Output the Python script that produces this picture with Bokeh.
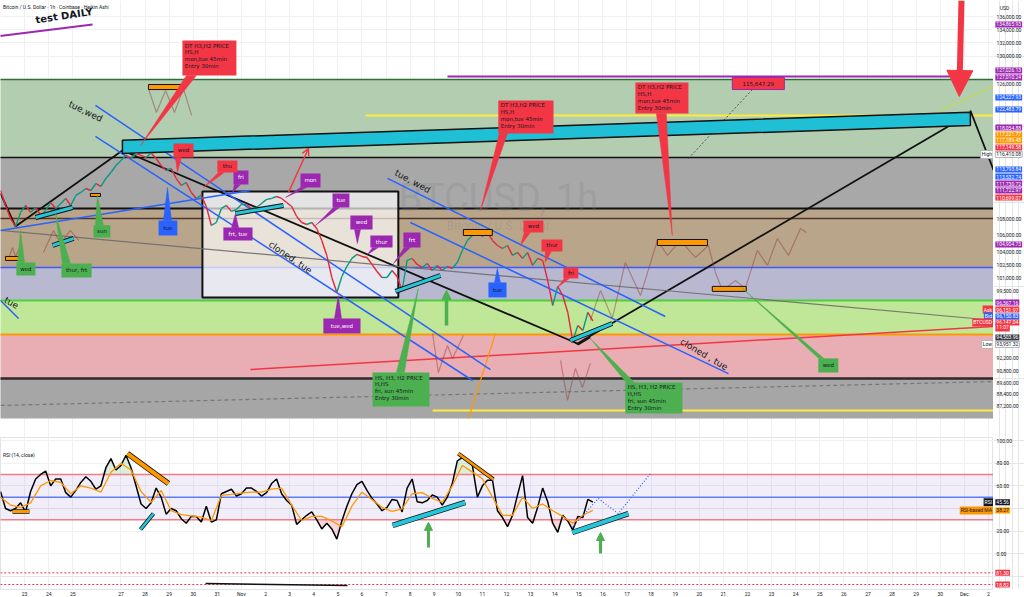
import numpy as np
from bokeh.plotting import figure
from bokeh.layouts import column, row
from bokeh.models import (Range1d, FixedTicker, Label, Arrow, NormalHead, OpenHead, Grid)
from bokeh.core.properties import value
from bokeh.embed import file_html
from bokeh.resources import INLINE

# ---------------------------------------------------------------- data
BAR_HOURS = 5      # sampled Heikin-Ashi closes, every 5 hours from Oct 22 00:00
price_close = [
    111540, 109650, 108030, 107060, 108780, 109650, 108780, 109400, 108410, 109030,
    110030, 109280, 109900, 110530, 109650, 110910, 111290, 111790, 111540, 112430,
    112050, 113080, 113850, 114760, 115420, 116080, 115680, 116340, 116080, 115810,
    116410, 115680, 114760, 114110, 114370, 113080, 112180, 112560, 111290, 110530,
    110910, 109530, 107180, 107540, 109280, 109650, 108910, 109150, 109780, 109780,
    109280, 109400, 109900, 110410, 110530, 110780, 110530, 110030, 109530, 108280,
    107540, 107300, 107540, 106810, 105360, 103580, 101010, 99300, 101130, 102290,
    103230, 103700, 103460, 103340, 102520, 101700, 101010, 101010, 101820, 101130,
    99530, 102990, 103230, 102520, 102170, 102640, 101820, 102410, 101820, 102290,
    102050, 102760, 104170, 105360, 105960, 106330, 105840, 106330, 105360, 104760,
    104400, 104760, 103580, 103930, 103230, 103930, 102410, 103230, 102990, 100670,
    97840, 99990, 98960, 97060, 93950, 95640, 95090, 97060, 96147.04]

rsi_values = [
    55, 40, 38, 40, 45, 37, 55, 66, 70, 73, 60, 66, 66, 54, 50, 56, 63, 68, 64, 57,
    60, 76, 84, 74, 78, 87, 76, 60, 44, 40, 45, 58, 50, 35, 40, 38, 31, 27, 33, 33,
    28, 42, 28, 30, 53, 55, 57, 51, 53, 58, 58, 55, 51, 54, 62, 66, 53, 47, 43, 26,
    30, 34, 37, 30, 22, 27, 22, 13, 29, 42, 53, 61, 64, 56, 49, 44, 38, 41, 48, 47,
    37, 58, 66, 46, 45, 47, 52, 50, 43, 50, 62, 82, 85, 82, 78, 50, 60, 65, 65, 38,
    32, 24, 34, 52, 69, 32, 27, 41, 58, 46, 27, 19, 34, 29, 21, 33, 32, 48, 45.56]

MA_HOURS = 10
rsi_ma_values = [
    50, 43, 41, 45, 60, 64.7, 63, 53, 60, 58, 54.4, 72, 80, 74, 55, 45.5, 55.9, 38.2,
    34.5, 33.5, 32.3, 29.4, 51.5, 52.5, 53.5, 54.4, 54.4, 57, 58, 43, 29.4, 33, 33, 29,
    24, 42, 54.4, 48, 41, 37.5, 39.7, 53, 54, 49, 45.5, 60, 77.9, 72.1, 66.2, 50, 34,
    34, 50, 40, 44, 38, 33, 27, 34, 38.27]

day_ticks = [1, 2, 3] + list(range(5, 42))
day_labels = (["23", "24", "25"] + [str(n) for n in range(27, 32)] + ["Nov"]
              + [str(n) for n in range(2, 31)] + ["Dec", "2"])

price_ticks = [87200, 88400, 89600, 90800, 92200, 99500, 101000, 102500, 104000,
               106000, 108000, 126000, 130000, 132000, 134000, 136000]
rsi_ticks = [0, 20, 60, 80, 100]
rsi_levels = [(70, "#f27c86"), (50, "#5b7cff"), (30, "#f27c86")]
rsi_extra_levels = [-16.8, -27.1]

# horizontal zones (price top, price bottom, colour)
zone_top = [126580, 115810, 109280, 102170, 98400, 94660, 90020]
zone_bottom = [115810, 109280, 102170, 98400, 94660, 90020, 86020]
zone_color = ["#b3cdb0", "#a8a8a8", "#b9a68a", "#b9b8d1", "#c0e697", "#e8aeb3", "#a6a6a6"]

level_lines = [(126580, "#2e7031", 1.5), (115810, "#111111", 1.5), (109280, "#111111", 2.0),
               (108030, "#4e342e", 1.5), (102170, "#3d5afe", 1.5), (98400, "#4cd137", 2.0),
               (94660, "#ff9800", 2.0), (90020, "#2b2b2b", 2.5)]
partial_levels = [(18.55, 39.83, 127010, "#9c27b0", 2.0),
                  (15.15, 41.5, 121500, "#ffeb3b", 2.0),
                  (17.93, 41.5, 86810, "#ffeb3b", 2.0)]

# trend lines: (days, prices, colour, width, dash, alpha)
trend_lines = [
    ([0.0, 0.62], [111160, 107060], "#111111", 1.8, "solid", 1),
    ([0.62, 5.06], [107060, 116740], "#111111", 1.8, "solid", 1),
    ([5.06, 23.94], [116740, 93690], "#111111", 1.8, "solid", 1),
    ([23.65, 23.98, 24.48], [94120, 93580, 94340], "#111111", 1.5, "solid", 1),
    ([23.94, 40.25], [93690, 121770], "#111111", 1.8, "solid", 1),
    ([40.25, 41.3], [122190, 113460], "#111111", 1.8, "solid", 1),
    ([0.0, 41.3], [106570, 96180], "#6d6d6d", 1.2, "solid", 0.9),
    ([0.0, 41.3], [87300, 89720], "#777777", 1.2, "4 3", 1),
    ([10.37, 41.3], [90950, 95530], "#f23645", 1.5, "solid", 1),
    ([19.42, 20.54], [86015, 94770], "#ff9800", 1.2, "solid", 1),
    ([39.0, 41.3], [122190, 125720], "#cddc39", 1.0, "solid", 1),
    ([31.2, 28.55], [125140, 115680], "#333333", 0.8, "2 2", 1),
    ([3.94, 20.33], [122890, 90950], "#2962ff", 1.5, "solid", 1),
    ([3.94, 19.59], [118620, 89820], "#2962ff", 1.5, "solid", 1),
    ([0.0, 10.37], [106570, 111540], "#2962ff", 1.5, "solid", 1),
    ([16.06, 27.59], [113080, 96620], "#2962ff", 1.5, "solid", 1),
    ([17.01, 30.21], [107540, 90530], "#2962ff", 1.5, "solid", 1),
    ([0.0, 0.75], [98400, 96400], "#2962ff", 1.5, "solid", 1),
    ([-0.5, 3.82], [132800, 134770], "#9c27b0", 2.0, "solid", 1),
]

ghost_paths = [
    ([6.14, 6.47, 6.85, 7.22, 7.59, 7.93], [125290, 121910, 125000, 121910, 125290, 121500]),
    ([17.93, 18.17, 18.55, 18.76, 19.21], [94770, 90640, 93470, 92110, 94550]),
    ([23.24, 23.53, 23.86, 24.15, 24.48], [91900, 87800, 91060, 89110, 91590]),
    ([24.48, 24.90, 25.39, 25.93, 26.56, 27.26, 27.68, 28.22, 28.84, 29.38, 29.67, 29.96,
      30.50, 30.91, 31.41, 31.83, 32.24, 32.70, 33.20, 33.44],
     [96180, 99530, 96400, 102760, 98960, 105360, 103580, 105360, 103340, 104760, 101590,
      99530, 100670, 99760, 104170, 102410, 105600, 103580, 106810, 106330]),
    ([1.78, 2.20, 2.49, 2.90, 3.24], [103930, 106570, 105000, 106570, 105360]),
    ([0.33, 0.50, 0.62, 0.79, 0.95], [103230, 104520, 103460, 104400, 103230]),
]

white_box = (8.38, 16.51, 111410, 98740)
cyan_band_x = [5.06, 40.25, 40.25, 5.06]
cyan_band_y = [118110, 121950, 120110, 116340]

orange_bars = [(6.14, 7.59, 125860, 125140), (19.21, 20.41, 106690, 105960),
               (27.26, 29.34, 105480, 104760), (29.54, 30.95, 99990, 99420),
               (0.21, 0.91, 103460, 102990), (3.73, 4.15, 111160, 110780)]
cyan_bars = [(16.39, 99420, 18.26, 101240), (23.65, 94010, 25.39, 95850),
             (1.45, 108160, 2.99, 109400), (2.16, 104760, 3.03, 105600),
             (9.75, 108650, 11.74, 109650)]

RED, GREEN, BLUE, PURPLE = "#f23645", "#4caf50", "#2962ff", "#9c27b0"
DT_TEXT = "DT H3,H2 PRICE\n HS,H\nmon,tue  45min\nEntry 30min"
HS_TEXT = "HS, H3, H2 PRICE\nH,HS\nfri, sun 45min\nEntry 30min"
# (box: d0, d1, top, bottom), (base d0, d1, price), (tip d, price), colour, text, text colour, multiline
callouts = [
    ((7.55, 9.79, 132330, 127160), (7.72, 8.13, 127160), (5.81, 117410), RED, DT_TEXT, "#131722", True),
    ((20.66, 22.95, 123590, 119030), (20.70, 21.04, 119030), (19.92, 109030), RED, DT_TEXT, "#131722", True),
    ((26.35, 28.55, 126150, 121770), (27.22, 27.63, 121770), (27.88, 105960), RED, DT_TEXT, "#131722", True),
    ((15.44, 17.80, 90640, 87200), (16.43, 16.76, 90640), (17.34, 99760), GREEN, HS_TEXT, "#131722", True),
    ((25.93, 28.30, 89620, 86510), (25.97, 26.31, 89620), (24.48, 94230), GREEN, HS_TEXT, "#131722", True),
    ((33.94, 34.77, 92110, 90640), (33.96, 34.17, 92110), (30.79, 99760), GREEN, "wed", "#131722", False),
    ((3.86, 4.56, 107220, 105720), (3.94, 4.27, 107220), (4.02, 110910), GREEN, "sun", "#131722", False),
    ((0.66, 1.45, 102760, 101240), (0.71, 1.00, 102760), (0.83, 106570), GREEN, "wed", "#131722", False),
    ((2.53, 3.78, 102640, 101010), (2.57, 2.90, 102640), (2.28, 108650), GREEN, "thur, frt", "#131722", False),
    ((6.56, 7.34, 107790, 105960), (6.76, 7.10, 107790), (6.93, 111920), BLUE, "tue", "#131722", False),
    ((20.25, 21.00, 100440, 98740), (20.50, 20.75, 100440), (20.62, 102050), BLUE, "tue", "#131722", False),
    ((9.67, 10.29, 114110, 112310), (9.71, 9.96, 112310), (9.63, 111290), PURPLE, "fri", "#ffffff", False),
    ((12.45, 13.28, 113720, 111920), (12.45, 12.70, 111920), (11.83, 110650), PURPLE, "mon", "#ffffff", False),
    ((13.78, 14.48, 111160, 109400), (13.82, 14.07, 109400), (13.07, 107180), PURPLE, "tue", "#ffffff", False),
    ((14.52, 15.44, 108410, 106690), (14.69, 14.94, 106690), (14.81, 105000), PURPLE, "wed", "#ffffff", False),
    ((15.35, 16.27, 105960, 104520), (15.44, 15.68, 104520), (15.23, 103700), PURPLE, "thur", "#ffffff", False),
    ((16.72, 17.43, 106330, 104520), (16.76, 17.01, 104520), (16.31, 102640), PURPLE, "frt", "#ffffff", False),
    ((9.25, 10.46, 106930, 105360), (9.59, 9.88, 106930), (9.75, 108650), PURPLE, "frt, tue", "#ffffff", False),
    ((13.40, 14.94, 96400, 94770), (13.86, 14.15, 96400), (14.02, 98960), PURPLE, "tue,wed", "#ffffff", False),
    ((7.18, 8.01, 117680, 115810), (7.26, 7.51, 115810), (7.34, 113850), RED, "wed", "#131722", False),
    ((9.00, 9.83, 115420, 113850), (9.05, 9.29, 113850), (8.42, 111920), RED, "thu", "#131722", False),
    ((21.70, 22.53, 107790, 106330), (21.74, 21.99, 106330), (21.58, 104760), RED, "wed", "#131722", False),
    ((22.45, 23.32, 105480, 104050), (22.61, 22.86, 104050), (22.61, 102760), RED, "thur", "#131722", False),
    ((23.36, 23.98, 102170, 100900), (23.40, 23.61, 100900), (23.11, 99870), RED, "fri", "#131722", False),
]

rot_texts = [("tue,wed", 3.53, 122050, -0.45, "center"), ("tue, wed", 17.1, 112690, -0.5, "center"),
             ("cloned, tue", 12.03, 103340, -0.6, "center"), ("cloned , tue", 29.2, 92530, -0.53, "center"),
             ("tue", 0.72, 97720, -0.5, "right")]

price_tags = [
    ("134,865.93", 134770, PURPLE, ""), ("127,026.13", 127890, PURPLE, ""),
    ("127,010.24", 126870, PURPLE, ""), ("124,227.93", 124010, BLUE, ""),
    ("122,483.79", 122330, BLUE, ""), ("118,054.88", 119840, PURPLE, ""),
    ("117,221.77", 118890, "#ff9800", ""), ("117,189.48", 118080, "#ff9800", ""),
    ("117,149.58", 117140, RED, ""), ("116,410.08", 116210, "#ffffff", "High"),
    ("113,793.84", 114240, BLUE, ""), ("113,532.74", 113330, BLUE, ""),
    ("111,730.72", 112430, PURPLE, ""), ("111,722.97", 111540, PURPLE, ""),
    ("110,699.07", 110650, RED, ""), ("104,904.73", 104880, PURPLE, ""),
    ("96,567.16", 98170, PURPLE, ""), ("96,151.97", 97390, RED, "Ask"),
    ("96,150.83", 96620, BLUE, "Bid"), ("96,147.04", 95960, RED, "BTCUSD"),
    ("11:07", 95420, RED, ""), ("94,503.96", 94340, "#363a45", ""),
    ("93,951.32", 93590, "#ffffff", "Low"),
]
rsi_tags = [("45.56", 45.56, "#131722", "RSI"), ("38.27", 38.27, "#ff9800", "RSI-based MA"),
            ("81.30", -16.8, RED, ""), ("18.82", -27.1, RED, "")]

rsi_bars = [(5.27, 88.5, 6.97, 62.0, "#ff9800", 4), (0.5, 37.3, 1.2, 37.3, "#ff9800", 3),
            (5.81, 21.4, 6.35, 35.5, "#26c6da", 2.5), (16.27, 25.0, 19.29, 45.3, "#26c6da", 4),
            (23.73, 18.8, 26.06, 35.5, "#26c6da", 4), (19.0, 88.5, 20.46, 65.6, "#ff9800", 2.5)]
rsi_projection_x = [23.73, 24.81, 25.64, 26.97]
rsi_projection_y = [23.2, 48.8, 35.5, 70.8]

# ---------------------------------------------------------------- figures
FONT = "Roboto"
GRID = "#eef0f5"
FULL = [-2, 45]          # span wider than the visible range, for full-width levels
xr = Range1d(0.0, 41.21)
pyr = Range1d(84170, 138505)
ryr = Range1d(-31.5, 102.65)

p = figure(frame_width=993, frame_height=437, x_range=xr, y_range=pyr, y_axis_type="log",
           y_axis_location=None, x_axis_location=None, output_backend="svg",
           toolbar_location=None, min_border=0)
p.outline_line_color = None
p.add_layout(Grid(dimension=0, ticker=FixedTicker(ticks=day_ticks), grid_line_color=GRID))
p.add_layout(Grid(dimension=1, ticker=FixedTicker(ticks=price_ticks), grid_line_color=GRID))

# zones
p.quad(left=FULL[0], right=FULL[1], top=zone_top, bottom=zone_bottom, fill_color=zone_color,
       line_color=None)
for lvl, col, w in level_lines:
    p.line(FULL, [lvl, lvl], line_color=col, line_width=w)
for d0, d1, lvl, col, w in partial_levels:
    p.line([d0, d1], [lvl, lvl], line_color=col, line_width=w)

# white study box
p.quad(left=[white_box[0]], right=[white_box[1]], top=[white_box[2]], bottom=[white_box[3]],
       fill_color="white", fill_alpha=0.68, line_color="#111111", line_width=2)

# watermark
p.text(x=[20.66], y=[110650], text=["BTCUSD, 1h"], text_font=value(FONT), text_font_size="38px",
       text_color="#787b86", text_alpha=0.22, text_align="center", text_baseline="middle")
p.text(x=[20.66], y=[107100], text=["Bitcoin / U.S. Dollar"], text_font=value(FONT),
       text_font_size="12px", text_color="#787b86", text_alpha=0.25, text_align="center",
       text_baseline="middle")

for xs, ys, col, w, dash, a in trend_lines:
    p.line(xs, ys, line_color=col, line_width=w, line_dash=dash, line_alpha=a)

p.patch(cyan_band_x, cyan_band_y, fill_color="#1fbfd6", line_color="#111111", line_width=1.5)

for xs, ys in ghost_paths:
    p.line(xs, ys, line_color="#8b3a3a", line_alpha=0.45, line_width=1.2)

# price path (Heikin Ashi closes) coloured by direction
pc = np.array(price_close, dtype=float)
tx = np.arange(len(pc)) * BAR_HOURS / 24.0
up = pc[1:] >= pc[:-1]
seg_col = np.where(up, "#089981", "#e0283a").tolist()
p.segment(x0=tx[:-1], y0=pc[:-1], x1=tx[1:], y1=pc[1:], line_color=seg_col, line_width=1.4)

for l, r_, t, b in orange_bars:
    p.quad(left=[l], right=[r_], top=[t], bottom=[b], fill_color="#ff9800", line_color="#111111",
           line_width=1)
for x0, y0, x1, y1 in cyan_bars:
    p.line([x0, x1], [y0, y1], line_color="#111111", line_width=5)
    p.line([x0, x1], [y0, y1], line_color="#26c6da", line_width=3)

# arrows
p.add_layout(Arrow(end=OpenHead(size=7, line_color=RED, line_width=1.5), x_start=11.95,
                   y_start=111290, x_end=12.78, y_end=117010, line_color=RED, line_width=1.5))
p.add_layout(Arrow(end=NormalHead(size=26, fill_color=RED, line_color=RED), x_start=39.88,
                   y_start=138505, x_end=39.79, y_end=124150, line_color=RED, line_width=6))
p.add_layout(Arrow(end=NormalHead(size=9, fill_color=GREEN, line_color=GREEN), x_start=18.51,
                   y_start=95640, x_end=18.51, y_end=99530, line_color=GREEN, line_width=3.5))

# callouts
for box, base, tip, col, txt, fg, multi in callouts:
    d0, d1, top, bot = box
    b0, b1, by = base
    p.patch([b0, tip[0], b1], [by, tip[1], by], fill_color=col, line_color=col, line_width=0.5)
    p.quad(left=[d0], right=[d1], top=[top], bottom=[bot], fill_color=col, line_color=None)
    if multi:
        p.text(x=[d0 + 0.1], y=[top], y_offset=2, text=[txt], text_font=value("DejaVu Sans"),
               text_font_size="5.5px", text_color=fg, text_align="left", text_baseline="top",
               text_line_height=1.15)
    else:
        p.text(x=[(d0 + d1) / 2], y=[(top * bot) ** 0.5], text=[txt], text_font=value("DejaVu Sans"),
               text_font_size="5.5px", text_color=fg, text_align="center", text_baseline="middle")

# value label 115,647.29
p.quad(left=[30.37], right=[32.53], top=[126870], bottom=[125140], fill_color=RED,
       line_color=PURPLE, line_width=1)
p.text(x=[31.45], y=[(126870 * 125140) ** 0.5], text=["115,647.29"], text_font=value("DejaVu Sans"),
       text_font_size="5.5px", text_color="#131722", text_align="center", text_baseline="middle")

for txt, x, y, ang, al in rot_texts:
    p.text(x=[x], y=[y], text=[txt], angle=ang, text_font=value("DejaVu Sans"), text_font_size="9px",
           text_color="#131722", text_align=al, text_baseline="middle")

p.text(x=[1.49], y=[134620], text=["test DAILY"], angle=0.15, text_font=value("DejaVu Sans"),
       text_font_size="10px", text_font_style="bold", text_color="#131722", text_align="left",
       text_baseline="bottom")
p.add_layout(Label(x=0.1, y=137560, text="Bitcoin / U.S. Dollar · 1h · Coinbase · Heikin Ashi",
                   text_font=FONT, text_font_size="5px", text_color="#131722", text_baseline="middle"))

# labels that sit just left of the price scale (inside the chart)
for txt, y, bg, side in price_tags:
    if side:
        fg = "#131722" if bg == "#ffffff" else "#ffffff"
        bd = "#b2b5be" if bg == "#ffffff" else None
        p.add_layout(Label(x=41.19, y=y, text=side, text_font=FONT, text_font_size="5px",
                           text_color=fg, background_fill_color=bg, border_line_color=bd,
                           text_align="right", text_baseline="middle", padding=1))

# ---------------------------------------------------------------- price scale column
pa = figure(frame_width=31, frame_height=437, x_range=Range1d(0, 1), y_range=pyr, y_axis_type="log",
            y_axis_location=None, x_axis_location=None, output_backend="svg",
            toolbar_location=None, min_border=0)
pa.outline_line_color = None
pa.text(x=[0.1] * len(price_ticks), y=price_ticks, text=[f"{v:,.2f}" for v in price_ticks],
        text_font=value(FONT), text_font_size="5px", text_color="#131722", text_baseline="middle")
pa.text(x=[0.2], y=[137250], text=["USD"], text_font=value(FONT), text_font_size="5px",
        text_color="#131722", text_baseline="middle")
for txt, y, bg, side in price_tags:
    fg = "#131722" if bg == "#ffffff" else "#ffffff"
    bd = "#b2b5be" if bg == "#ffffff" else None
    pa.add_layout(Label(x=0.06, y=y, text=txt, text_font=FONT, text_font_size="5px", text_color=fg,
                        background_fill_color=bg, border_line_color=bd, text_baseline="middle",
                        padding=1))

# ---------------------------------------------------------------- RSI pane
r = figure(frame_width=993, frame_height=152, x_range=xr, y_range=ryr, y_axis_location=None,
           output_backend="svg", toolbar_location=None, min_border=0, min_border_bottom=8)
r.outline_line_color = "#e0e3eb"
r.xaxis.ticker = FixedTicker(ticks=day_ticks)
r.xaxis.major_label_overrides = {d: lab for d, lab in zip(day_ticks, day_labels)}
ax = r.xaxis[0]
ax.major_tick_line_color = None
ax.minor_tick_line_color = None
ax.major_tick_out = 0
ax.major_tick_in = 0
ax.minor_tick_out = 0
ax.minor_tick_in = 0
ax.axis_line_color = None
ax.major_label_text_font_size = "5px"
ax.major_label_text_font = FONT
ax.major_label_text_color = "#131722"
ax.major_label_standoff = 1
r.xgrid.ticker = FixedTicker(ticks=day_ticks)
r.xgrid.grid_line_color = GRID
r.add_layout(Grid(dimension=1, ticker=FixedTicker(ticks=rsi_ticks), grid_line_color=GRID))

r.quad(left=[FULL[0]], right=[FULL[1]], top=[70], bottom=[30], fill_color="#7e57c2",
       fill_alpha=0.1, line_color=None)
rv = np.array(rsi_values, dtype=float)
rx = np.arange(len(rv)) * BAR_HOURS / 24.0
r.varea(x=rx, y1=np.full_like(rv, 70), y2=np.maximum(rv, 70), fill_color="#4caf50", fill_alpha=0.2)
r.varea(x=rx, y1=np.full_like(rv, 30), y2=np.minimum(rv, 30), fill_color="#f23645", fill_alpha=0.2)
for lvl, col in rsi_levels:
    r.line(FULL, [lvl, lvl], line_color=col, line_width=1.5)
for lvl in rsi_extra_levels:
    r.line(FULL, [lvl, lvl], line_color=RED, line_width=1, line_dash="2 2")

r.line(rx, rv, line_color="#000000", line_width=1.5)
mx = np.arange(len(rsi_ma_values)) * MA_HOURS / 24.0
r.line(mx, rsi_ma_values, line_color="#ff9800", line_width=1.3)

for x0, y0, x1, y1, col, w in rsi_bars:
    r.line([x0, x1], [y0, y1], line_color="#111111", line_width=w + 1.5)
    r.line([x0, x1], [y0, y1], line_color=col, line_width=w)
r.line(rsi_projection_x, rsi_projection_y, line_color=BLUE, line_width=1.2, line_dash="1 2")
r.line([8.51, 14.4], [-26.2, -27.9], line_color="#111111", line_width=1.5)
r.add_layout(Arrow(end=NormalHead(size=8, fill_color=GREEN, line_color=GREEN), x_start=17.76,
                   y_start=5.6, x_end=17.76, y_end=27.8, line_color=GREEN, line_width=3))
r.add_layout(Arrow(end=NormalHead(size=8, fill_color=GREEN, line_color=GREEN), x_start=24.9,
                   y_start=0.3, x_end=24.9, y_end=18.8, line_color=GREEN, line_width=3))

r.add_layout(Label(x=0.1, y=86.8, text="RSI (14, close)", text_font=FONT, text_font_size="5px",
                   text_color="#131722", text_baseline="middle"))
for txt, y, bg, side in rsi_tags:
    if side:
        fg = "#131722" if bg == "#ff9800" else "#ffffff"
        r.add_layout(Label(x=41.19, y=y, text=side, text_font=FONT, text_font_size="5px",
                           text_color=fg, background_fill_color=bg, text_align="right",
                           text_baseline="middle", padding=1))

# RSI scale column
ra = figure(frame_width=31, frame_height=152, x_range=Range1d(0, 1), y_range=ryr,
            y_axis_location=None, x_axis_location=None, output_backend="svg",
            toolbar_location=None, min_border=0, min_border_bottom=8)
ra.outline_line_color = None
ra.text(x=[0.1] * len(rsi_ticks), y=rsi_ticks, text=[f"{v:.2f}" for v in rsi_ticks],
        text_font=value(FONT), text_font_size="5px", text_color="#131722", text_baseline="middle")
for txt, y, bg, side in rsi_tags:
    fg = "#131722" if bg == "#ff9800" else "#ffffff"
    ra.add_layout(Label(x=0.06, y=y, text=txt, text_font=FONT, text_font_size="5px", text_color=fg,
                        background_fill_color=bg, text_baseline="middle", padding=1))

layout = row(column(p, r), column(pa, ra))
open("out.html", "w").write(file_html(layout, INLINE))
